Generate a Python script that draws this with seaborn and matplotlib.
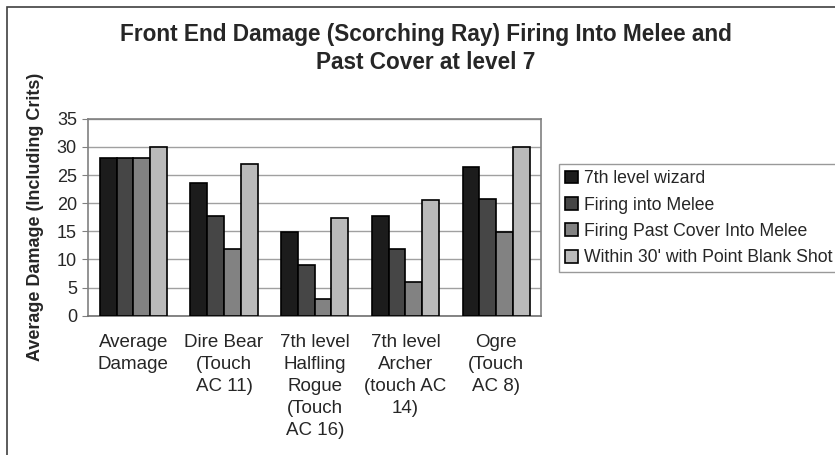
import pandas as pd
import numpy as np
import matplotlib.pyplot as plt
import seaborn as sns
from matplotlib.patches import Rectangle

categories = ["Average\nDamage", "Dire Bear\n(Touch\nAC 11)", "7th level\nHalfling\nRogue\n(Touch\nAC 16)",
              "7th level\nArcher\n(touch AC\n14)", "Ogre\n(Touch\nAC 8)"]
series = ["7th level wizard", "Firing into Melee", "Firing Past Cover Into Melee",
          "Within 30' with Point Blank Shot"]
wizard = [28.1, 23.6, 14.8, 17.8, 26.5]
melee = [28.1, 17.8, 9.0, 11.8, 20.7]
cover = [28.1, 11.8, 3.0, 6.0, 14.8]
pbs = [30.0, 26.9, 17.4, 20.6, 30.0]
colors = ["#1c1c1c", "#464646", "#828282", "#bababa"]

df = pd.DataFrame({"Category": categories * 4,
                   "Series": np.repeat(series, len(categories)),
                   "Damage": wizard + melee + cover + pbs})

sns.set_style("white")
plt.rcParams['font.family'] = ['Liberation Sans', 'DejaVu Sans']

fig = plt.figure(figsize=(8.35, 4.55), dpi=100)
# outer chart frame (top and left edges visible)
fig.patches.append(Rectangle((7 / 835, -0.1), 1.2, 1.1 - 7.5 / 455, transform=fig.transFigure,
                             fill=False, edgecolor="#404040", linewidth=1.2))

ax = fig.add_axes([0.1054, 0.306, 0.543, 0.433])
sns.barplot(data=df, x="Category", y="Damage", hue="Series", palette=colors,
            width=0.74, edgecolor="black", linewidth=1.2, ax=ax, zorder=3)

ax.set_ylim(0, 35)
ax.set_xlim(-0.5, 4.5)
ax.set_yticks(range(0, 36, 5))
ax.yaxis.grid(True, color="#a0a0a0", linewidth=1, zorder=0)
ax.set_axisbelow(True)
for s in ax.spines.values():
    s.set_color("#808080")
    s.set_linewidth(1.2)
ax.spines["bottom"].set_color("#707070")
ax.set_xticks(np.arange(0, 5))
ax.set_xticklabels(categories, fontsize=13.5, va="top", linespacing=1.38)
ax.set_xticks(np.arange(-0.5, 5, 1), minor=True)
ax.tick_params(axis="x", which="major", length=0, pad=13)
ax.tick_params(axis="x", which="minor", length=5, color="#808080", direction="out")
ax.tick_params(axis="y", length=4, color="#808080", direction="out", labelsize=13, left=True, pad=4)
ax.set_xlabel("")
ax.set_ylabel("Average Damage (Including Crits)", fontsize=13, fontweight="bold")
ax.yaxis.set_label_coords(-0.097, 0.5)

fig.suptitle("Front End Damage (Scorching Ray) Firing Into Melee and\nPast Cover at level 7",
             x=0.51, y=0.95, fontsize=16.3, fontweight="bold", linespacing=1.3)

leg = ax.legend(loc="upper left", bbox_to_anchor=(559 / 835, 1 - 164 / 455, 320 / 835, 0.0),
                bbox_transform=fig.transFigure, mode="expand", borderaxespad=0, fontsize=12.7,
                frameon=True, fancybox=False, edgecolor="#808080", handlelength=0.75,
                handleheight=0.75, handletextpad=0.3, labelspacing=0.53, borderpad=0.35)
leg.get_frame().set_linewidth(1)

fig.savefig("out.png", dpi=100)
